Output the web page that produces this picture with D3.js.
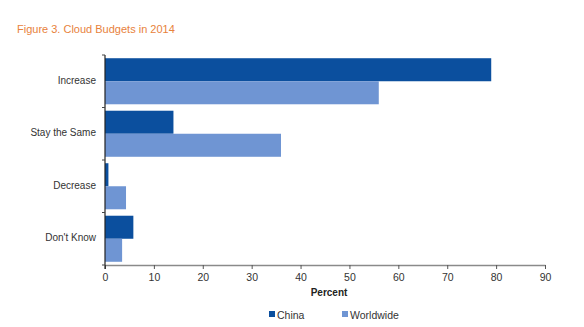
<!DOCTYPE html>
<html>
<head>
<meta charset="utf-8">
<script src="https://cdn.jsdelivr.net/npm/d3@7"></script>
<style>
  html, body { margin: 0; padding: 0; background: #fff; }
  svg { display: block; font-family: "Liberation Sans", Arial, sans-serif; }
</style>
</head>
<body>
<svg id="chart" width="584" height="327"></svg>
<script>
// Survey answers and shares (percent)
const categories = ["Increase", "Stay the Same", "Decrease", "Don't Know"];
const seriesNames = ["China", "Worldwide"];
const chinaValues = [79, 14, 0.7, 5.8];
const worldwideValues = [56, 36, 4.3, 3.5];
const xTicks = [0, 10, 20, 30, 40, 50, 60, 70, 80, 90];
const colors = ["#0b4f9e", "#6f95d3"];

const svg = d3.select("#chart");
const margin = { left: 105, right: 39, top: 55, bottom: 62 };
const W = 584, H = 327;

const x = d3.scaleLinear().domain([0, 90]).range([margin.left, W - margin.right]);
const y = d3.scaleBand().domain(categories).range([margin.top, H - margin.bottom]).paddingInner(0).paddingOuter(0);
const inner = d3.scaleBand().domain(seriesNames).range([0, y.bandwidth()]).paddingOuter(0.14).paddingInner(0);

// Title
svg.append("text")
  .attr("x", 17).attr("y", 33)
  .attr("fill", "#e8823c")
  .attr("font-size", 11)
  .text("Figure 3. Cloud Budgets in 2014");

// Bars
const rows = categories.map((c, i) => ({ cat: c, values: [chinaValues[i], worldwideValues[i]] }));
const g = svg.append("g");
rows.forEach(r => {
  r.values.forEach((v, j) => {
    g.append("rect")
      .attr("x", x(0))
      .attr("y", y(r.cat) + inner(seriesNames[j]))
      .attr("width", x(v) - x(0))
      .attr("height", inner.bandwidth())
      .attr("fill", colors[j]);
  });
});

// X axis
const xAxis = svg.append("g")
  .attr("transform", `translate(0,${H - margin.bottom})`)
  .call(d3.axisBottom(x).tickValues(xTicks).tickSize(4).tickSizeOuter(0));
xAxis.select(".domain").attr("stroke", "#8a8a8a").attr("stroke-width", 1.5);
xAxis.selectAll(".tick line").attr("stroke", "#555");
xAxis.selectAll(".tick text").attr("fill", "#333").attr("font-size", 10.5).attr("dy", "0.9em")
  .attr("font-family", "Liberation Sans, Arial, sans-serif");

// Y axis: ticks at category boundaries
const yAxisG = svg.append("g");
yAxisG.append("line")
  .attr("x1", x(0)).attr("x2", x(0))
  .attr("y1", margin.top).attr("y2", H - margin.bottom + 4)
  .attr("stroke", "#222").attr("stroke-width", 1.2);
const bounds = categories.map(c => y(c)).concat([y.range()[1]]);
yAxisG.selectAll("line.b").data(bounds).join("line")
  .attr("class", "b")
  .attr("x1", x(0) - 3).attr("x2", x(0))
  .attr("y1", d => d).attr("y2", d => d)
  .attr("stroke", "#444");
yAxisG.selectAll("text").data(categories).join("text")
  .attr("x", x(0) - 9)
  .attr("y", d => y(d) + y.bandwidth() / 2 - 1)
  .attr("dy", "0.35em")
  .attr("text-anchor", "end")
  .attr("fill", "#333")
  .attr("font-size", 10)
  .text(d => d);

// Axis title
svg.append("text")
  .attr("x", x(45) + 4).attr("y", 296)
  .attr("text-anchor", "middle")
  .attr("font-weight", "bold")
  .attr("font-size", 10)
  .attr("fill", "#222")
  .text("Percent");

// Legend
const legendX = [269, 342];
seriesNames.forEach((name, i) => {
  svg.append("rect")
    .attr("x", legendX[i]).attr("y", 311)
    .attr("width", 6).attr("height", 6)
    .attr("fill", colors[i]);
  svg.append("text")
    .attr("x", legendX[i] + 8).attr("y", 318.5)
    .attr("font-size", 10.5)
    .attr("fill", "#333")
    .text(name);
});
</script>
</body>
</html>
